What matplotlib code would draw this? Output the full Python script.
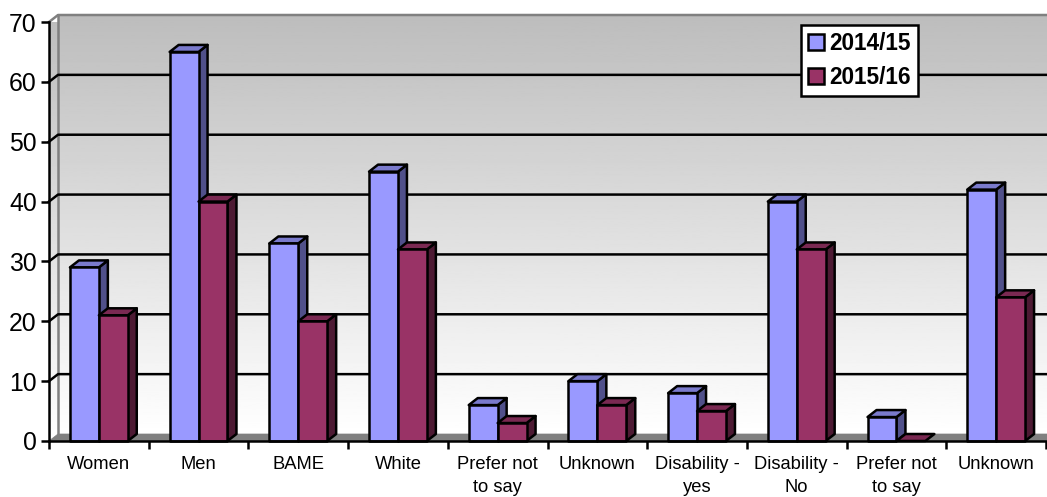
import matplotlib
matplotlib.use("Agg")
import matplotlib.pyplot as plt
import numpy as np
from matplotlib.patches import Polygon, Patch

categories = ["Women", "Men", "BAME", "White", "Prefer not\nto say", "Unknown",
              "Disability -\nyes", "Disability -\nNo", "Prefer not\nto say", "Unknown"]
values_1415 = [29, 65, 33, 45, 6, 10, 8, 40, 4, 42]
values_1516 = [21, 40, 20, 32, 3, 6, 5, 32, 0, 24]
y_ticks = [0, 10, 20, 30, 40, 50, 60, 70]

plt.rcParams["font.family"] = ["Liberation Sans", "DejaVu Sans"]

W, H = 1047, 497
LW = 1.8

# depth of the fake 3d box, in data units
DX = 9 / 99.7
DY = 7 / 5.986
BAR_W = 0.29
BAR_START = 0.21


def poly(ax, pts, fc, ec="none", lw=0, z=2):
    p = Polygon(pts, closed=True, facecolor=fc, edgecolor=ec, linewidth=lw,
                zorder=z, clip_on=False, joinstyle="round")
    ax.add_patch(p)
    return p


def bar3d(ax, x, v, front, top, side, z):
    w = BAR_W
    if v > 0:
        poly(ax, [(x + w, 0), (x + w + DX, DY), (x + w + DX, v + DY), (x + w, v)],
             side, "black", LW, z)
        poly(ax, [(x, v), (x + DX, v + DY), (x + w + DX, v + DY), (x + w, v)],
             top, "black", LW, z)
        poly(ax, [(x, 0), (x + w, 0), (x + w, v), (x, v)], front, "black", LW, z)
    else:
        poly(ax, [(x, 0), (x + DX, DY), (x + w + DX, DY), (x + w, 0)], top, "black", LW, z)


fig = plt.figure(figsize=(W / 100, H / 100), dpi=100)
ax = fig.add_axes([49 / W, 1 - 441 / H, (1046 - 49) / W, (441 - 22) / H])
ax.set_xlim(0, 10)
ax.set_ylim(0, 70)
ax.patch.set_visible(False)

# walls fade from grey at the top to white at the floor
grad = np.linspace(0.74, 1.0, 256).reshape(-1, 1)
back = ax.imshow(grad, cmap="gray", vmin=0, vmax=1, aspect="auto", origin="upper",
                 extent=(DX, 10 + DX, DY, 70 + DY), zorder=0, clip_on=False)
side_wall = ax.imshow(grad, cmap="gray", vmin=0, vmax=1, aspect="auto", origin="upper",
                      extent=(0, DX, 0, 70 + DY), zorder=0)
side_wall.set_clip_path(Polygon([(0, 0), (DX, DY), (DX, 70 + DY), (0, 70)],
                                transform=ax.transData))
ax.set_xlim(0, 10)
ax.set_ylim(0, 70)

# wall outline
ax.plot([0, DX, 10 + DX], [70, 70 + DY, 70 + DY], color="#808080", lw=LW, zorder=1, clip_on=False)
ax.plot([DX, DX], [DY, 70 + DY], color="#808080", lw=LW, zorder=1, clip_on=False)

# floor
poly(ax, [(0, 0), (DX, DY), (10 + DX, DY), (10, 0)], "#808080", "#808080", 0.5, 1)

# gridlines run along the back wall and step down the side wall
for v in y_ticks[1:-1]:
    ax.plot([0, DX, 10 + DX], [v, v + DY, v + DY], color="black", lw=LW, zorder=1.5, clip_on=False)

for i in range(len(categories)):
    x0 = i + BAR_START
    bar3d(ax, x0, values_1415[i], "#9999FF", "#7A7ACC", "#50508A", 3)
    bar3d(ax, x0 + BAR_W, values_1516[i], "#993366", "#7A2952", "#4D1A33", 4)

for s in ("top", "right"):
    ax.spines[s].set_visible(False)
for s in ("left", "bottom"):
    ax.spines[s].set_linewidth(LW)
    ax.spines[s].set_zorder(5)

ax.set_yticks(y_ticks)
ax.tick_params(axis="y", labelsize=17.8, length=5.8, width=LW, pad=3)
ax.set_xticks(range(11))
ax.set_xticklabels([])
ax.tick_params(axis="x", which="major", length=5.8, width=LW)
ax.set_xticks(np.arange(10) + 0.5, categories, minor=True, fontsize=13.2, linespacing=1.45, color="black")
ax.tick_params(axis="x", which="minor", length=0, pad=11)

leg = ax.legend(handles=[Patch(facecolor="#9999FF", edgecolor="black", linewidth=LW, label="2014/15"),
                         Patch(facecolor="#993366", edgecolor="black", linewidth=LW, label="2015/16")],
                loc="upper left", bbox_to_anchor=((801 - 49) / 997, (441 - 25) / 419),
                borderaxespad=0, fancybox=False, framealpha=1, edgecolor="black",
                prop={"weight": "bold", "size": 16.3}, handlelength=0.7, handleheight=0.7,
                handletextpad=0.25, labelspacing=0.5, borderpad=0.3)
leg.get_frame().set_linewidth(LW)
leg.set_zorder(6)

fig.savefig("out.png", dpi=100)
